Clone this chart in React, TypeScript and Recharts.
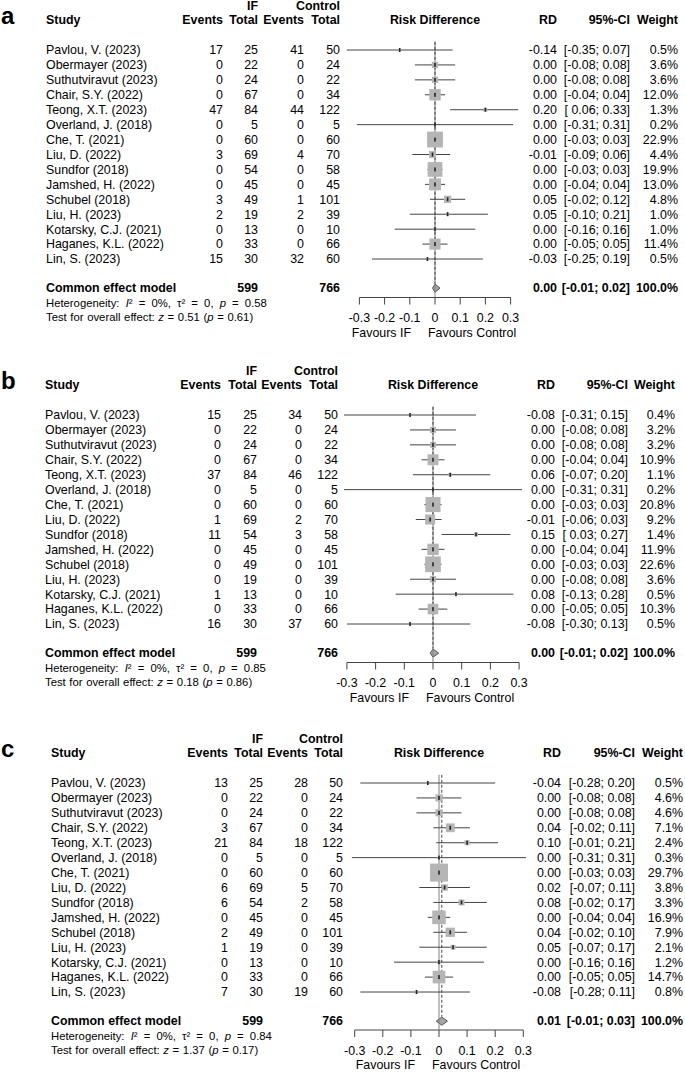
import React from 'react';
import {
  ScatterChart,
  Scatter,
  XAxis,
  YAxis,
  ErrorBar,
  ReferenceLine,
  ReferenceArea,
} from 'recharts';

const studies = [
  'Pavlou, V. (2023)',
  'Obermayer (2023)',
  'Suthutviravut (2023)',
  'Chair, S.Y. (2022)',
  'Teong, X.T. (2023)',
  'Overland, J. (2018)',
  'Che, T. (2021)',
  'Liu, D. (2022)',
  'Sundfor (2018)',
  'Jamshed, H. (2022)',
  'Schubel (2018)',
  'Liu, H. (2023)',
  'Kotarsky, C.J. (2021)',
  'Haganes, K.L. (2022)',
  'Lin, S. (2023)',
];
const totalIF = [25, 22, 24, 67, 84, 5, 60, 69, 54, 45, 49, 19, 13, 33, 30];
const totalControl = [50, 24, 22, 34, 122, 5, 60, 70, 58, 45, 101, 39, 10, 66, 60];
const axisTicks = [-0.3, -0.2, -0.1, 0, 0.1, 0.2, 0.3];

// panel a
const eventsIF_A = [17, 0, 0, 0, 47, 0, 0, 3, 0, 0, 3, 2, 0, 0, 15];
const eventsControl_A = [41, 0, 0, 0, 44, 0, 0, 4, 0, 0, 1, 2, 0, 0, 32];
const rd_A = [-0.14, 0, 0, 0, 0.2, 0, 0, -0.01, 0, 0, 0.05, 0.05, 0, 0, -0.03];
const low_A = [-0.35, -0.08, -0.08, -0.04, 0.06, -0.31, -0.03, -0.09, -0.03, -0.04, -0.02, -0.1, -0.16, -0.05, -0.25];
const high_A = [0.07, 0.08, 0.08, 0.04, 0.33, 0.31, 0.03, 0.06, 0.03, 0.04, 0.12, 0.21, 0.16, 0.05, 0.19];
const weight_A = [0.5, 3.6, 3.6, 12.0, 1.3, 0.2, 22.9, 4.4, 19.9, 13.0, 4.8, 1.0, 1.0, 11.4, 0.5];
const pooled_A = [0.0, -0.01, 0.02]; // RD, lower, upper
const stats_A = { i2: 0, tau2: 0, pHet: 0.58, z: 0.51, p: 0.61 };

// panel b
const eventsIF_B = [15, 0, 0, 0, 37, 0, 0, 1, 11, 0, 0, 0, 1, 0, 16];
const eventsControl_B = [34, 0, 0, 0, 46, 0, 0, 2, 3, 0, 0, 0, 0, 0, 37];
const rd_B = [-0.08, 0, 0, 0, 0.06, 0, 0, -0.01, 0.15, 0, 0, 0, 0.08, 0, -0.08];
const low_B = [-0.31, -0.08, -0.08, -0.04, -0.07, -0.31, -0.03, -0.06, 0.03, -0.04, -0.03, -0.08, -0.13, -0.05, -0.3];
const high_B = [0.15, 0.08, 0.08, 0.04, 0.2, 0.31, 0.03, 0.03, 0.27, 0.04, 0.03, 0.08, 0.28, 0.05, 0.13];
const weight_B = [0.4, 3.2, 3.2, 10.9, 1.1, 0.2, 20.8, 9.2, 1.4, 11.9, 22.6, 3.6, 0.5, 10.3, 0.5];
const pooled_B = [0.0, -0.01, 0.02];
const stats_B = { i2: 0, tau2: 0, pHet: 0.85, z: 0.18, p: 0.86 };

// panel c
const eventsIF_C = [13, 0, 0, 3, 21, 0, 0, 6, 6, 0, 2, 1, 0, 0, 7];
const eventsControl_C = [28, 0, 0, 0, 18, 0, 0, 5, 2, 0, 0, 0, 0, 0, 19];
const rd_C = [-0.04, 0, 0, 0.04, 0.1, 0, 0, 0.02, 0.08, 0, 0.04, 0.05, 0, 0, -0.08];
const low_C = [-0.28, -0.08, -0.08, -0.02, -0.01, -0.31, -0.03, -0.07, -0.02, -0.04, -0.02, -0.07, -0.16, -0.05, -0.28];
const high_C = [0.2, 0.08, 0.08, 0.11, 0.21, 0.31, 0.03, 0.11, 0.17, 0.04, 0.1, 0.17, 0.16, 0.05, 0.11];
const weight_C = [0.5, 4.6, 4.6, 7.1, 2.4, 0.3, 29.7, 3.8, 3.3, 16.9, 7.9, 2.1, 1.2, 14.7, 0.8];
const pooled_C = [0.01, -0.01, 0.03];
const stats_C = { i2: 0, tau2: 0, pHet: 0.84, z: 1.37, p: 0.17 };

const FONT = '"Liberation Sans", Arial, Helvetica, sans-serif';
const ROW = 14.93;
const SPAN = 0.4;
const FS = 12.4;

const panels = [
  {
    letter: 'a', eventsIF: eventsIF_A, eventsControl: eventsControl_A, rd: rd_A, low: low_A, high: high_A,
    weight: weight_A, pooled: pooled_A, stats: stats_A,
    layout: { y0: 50, axisY: 297.5, zero: 435, scale: 252, study: 46, evIF: 223, totIF: 258, evC: 304, totC: 340, rdX: 557, ciX: 630, wX: 678 },
  },
  {
    letter: 'b', eventsIF: eventsIF_B, eventsControl: eventsControl_B, rd: rd_B, low: low_B, high: high_B,
    weight: weight_B, pooled: pooled_B, stats: stats_B,
    layout: { y0: 414.5, axisY: 662, zero: 433, scale: 287, study: 45, evIF: 221, totIF: 257, evC: 302, totC: 338, rdX: 555, ciX: 628, wX: 675 },
  },
  {
    letter: 'c', eventsIF: eventsIF_C, eventsControl: eventsControl_C, rd: rd_C, low: low_C, high: high_C,
    weight: weight_C, pooled: pooled_C, stats: stats_C,
    layout: { y0: 783, axisY: 1030, zero: 439, scale: 281, study: 51, evIF: 228, totIF: 263, evC: 308, totC: 343, rdX: 561, ciX: 635, wX: 683 },
  },
];

const fmt = (v: number) => v.toFixed(2);
const ci = (lo: number, hi: number) => `[${lo >= 0 ? ' ' : ''}${fmt(lo)}; ${fmt(hi)}]`;
const sum = (a: number[]) => a.reduce((s, v) => s + v, 0);

function Txt({ x, y, anchor = 'start', bold = false, size = FS, spacing = 0, children }: any) {
  return (
    <text
      x={x}
      y={y}
      dy="0.35em"
      textAnchor={anchor}
      fontWeight={bold ? 'bold' : 'normal'}
      fontSize={size}
      fontFamily={FONT}
      fill="#000"
      xmlSpace="preserve"
      style={spacing ? { wordSpacing: spacing } : undefined}
    >
      {children}
    </text>
  );
}

function Panel({ d }: { d: (typeof panels)[number] }) {
  const L = d.layout;
  const top = L.y0 - 50;
  const height = L.axisY - top + 48;
  const toRow = (py: number) => (py - L.y0) / ROW;
  const domainTop = toRow(top + 2);
  const axisRow = toRow(L.axisY);
  const pooledRow = 15.95;
  const xl = L.zero - SPAN * L.scale;
  const xr = L.zero + SPAN * L.scale;

  const data = studies.map((_, i) => ({
    x: d.rd[i],
    y: i,
    err: [d.rd[i] - d.low[i], d.high[i] - d.rd[i]],
    weight: d.weight[i],
  }));

  const rowKinds = [
    { pos: -3, kind: 'group' },
    { pos: -2, kind: 'header' },
    ...studies.map((_, i) => ({ pos: i, kind: 'study' })),
    { pos: pooledRow, kind: 'pooled' },
    { pos: pooledRow + 1, kind: 'het' },
    { pos: pooledRow + 1.95, kind: 'test' },
    { pos: toRow(L.axisY + 35), kind: 'favours' },
  ];

  const renderTick = (props: any) => {
    const y = props.y;
    const v = props.payload.value;
    const r = rowKinds.find((k) => Math.abs(k.pos - v) < 1e-6);
    if (!r) return <g />;
    if (r.kind === 'group') {
      return (
        <g>
          <Txt x={L.totIF} y={y} anchor="end" bold>IF</Txt>
          <Txt x={L.totC} y={y} anchor="end" bold>Control</Txt>
        </g>
      );
    }
    if (r.kind === 'header') {
      return (
        <g>
          <text x={1} y={y + 4} fontSize={24} fontWeight="bold" fontFamily={FONT} fill="#000">{d.letter}</text>
          <Txt x={L.study} y={y} bold>Study</Txt>
          <Txt x={L.evIF} y={y} anchor="end" bold>Events</Txt>
          <Txt x={L.totIF} y={y} anchor="end" bold>Total</Txt>
          <Txt x={L.evC} y={y} anchor="end" bold>Events</Txt>
          <Txt x={L.totC} y={y} anchor="end" bold>Total</Txt>
          <Txt x={L.zero} y={y} anchor="middle" bold>Risk Difference</Txt>
          <Txt x={L.rdX} y={y} anchor="end" bold>RD</Txt>
          <Txt x={L.ciX} y={y} anchor="end" bold>95%-CI</Txt>
          <Txt x={L.wX} y={y} anchor="end" bold>Weight</Txt>
        </g>
      );
    }
    if (r.kind === 'study') {
      const i = r.pos;
      return (
        <g>
          <Txt x={L.study} y={y}>{studies[i]}</Txt>
          <Txt x={L.evIF} y={y} anchor="end">{d.eventsIF[i]}</Txt>
          <Txt x={L.totIF} y={y} anchor="end">{totalIF[i]}</Txt>
          <Txt x={L.evC} y={y} anchor="end">{d.eventsControl[i]}</Txt>
          <Txt x={L.totC} y={y} anchor="end">{totalControl[i]}</Txt>
          <Txt x={L.rdX} y={y} anchor="end">{fmt(d.rd[i])}</Txt>
          <Txt x={L.ciX} y={y} anchor="end">{ci(d.low[i], d.high[i])}</Txt>
          <Txt x={L.wX} y={y} anchor="end">{`${d.weight[i].toFixed(1)}%`}</Txt>
        </g>
      );
    }
    if (r.kind === 'pooled') {
      return (
        <g>
          <Txt x={L.study} y={y} bold>Common effect model</Txt>
          <Txt x={L.totIF} y={y} anchor="end" bold>{sum(totalIF)}</Txt>
          <Txt x={L.totC} y={y} anchor="end" bold>{sum(totalControl)}</Txt>
          <Txt x={L.rdX} y={y} anchor="end" bold>{fmt(d.pooled[0])}</Txt>
          <Txt x={L.ciX} y={y} anchor="end" bold>{ci(d.pooled[1], d.pooled[2])}</Txt>
          <Txt x={L.wX} y={y} anchor="end" bold>100.0%</Txt>
        </g>
      );
    }
    if (r.kind === 'het') {
      const s = d.stats;
      return (
        <Txt x={L.study} y={y} size={11.3} spacing={3}>
          {'Heterogeneity: '}
          <tspan fontStyle="italic">I</tspan>
          {`² = ${s.i2}%, τ² = ${s.tau2}, `}
          <tspan fontStyle="italic">p</tspan>
          {` = ${s.pHet.toFixed(2)}`}
        </Txt>
      );
    }
    if (r.kind === 'test') {
      const s = d.stats;
      return (
        <Txt x={L.study} y={y} size={11.3} spacing={0.5}>
          {'Test for overall effect: '}
          <tspan fontStyle="italic">z</tspan>
          {` = ${s.z.toFixed(2)} (`}
          <tspan fontStyle="italic">p</tspan>
          {` = ${s.p.toFixed(2)})`}
        </Txt>
      );
    }
    return (
      <g>
        <Txt x={L.zero - 24} y={y} anchor="end">Favours IF</Txt>
        <Txt x={L.zero - 7} y={y}>Favours Control</Txt>
      </g>
    );
  };

  const pooledLo = d.pooled[1];
  const pooledHi = d.pooled[2];
  const tipFrac = (d.pooled[0] - pooledLo) / (pooledHi - pooledLo);

  return (
    <div style={{ position: 'absolute', left: 0, top }}>
      <ScatterChart
        width={685}
        height={height}
        margin={{ top: 2, right: 685 - xr, bottom: 18, left: 0 }}
      >
        <XAxis
          type="number"
          dataKey="x"
          domain={[-SPAN, SPAN]}
          allowDataOverflow
          ticks={axisTicks}
          interval={0}
          axisLine={false}
          tickLine={{ stroke: '#444' }}
          tickSize={7}
          tickMargin={9}
          height={30}
          tick={{ fontSize: FS, fill: '#000', fontFamily: FONT }}
        />
        <YAxis
          type="number"
          dataKey="y"
          domain={[domainTop, axisRow]}
          allowDataOverflow
          reversed
          width={xl}
          ticks={rowKinds.map((k) => k.pos)}
          interval={0}
          axisLine={false}
          tickLine={false}
          tick={renderTick}
        />
        <ReferenceLine
          segment={[{ x: -0.3, y: axisRow }, { x: 0.3, y: axisRow }]}
          stroke="#444"
          ifOverflow="visible"
        />
        <ReferenceLine
          segment={[{ x: 0, y: -0.55 }, { x: 0, y: axisRow }]}
          stroke="#808080"
          ifOverflow="visible"
        />
        <ReferenceLine
          segment={[{ x: d.pooled[0], y: -0.55 }, { x: d.pooled[0], y: pooledRow - 0.3 }]}
          stroke="#404040"
          strokeDasharray="3 2"
          ifOverflow="visible"
        />
        <Scatter
          data={data}
          isAnimationActive={false}
          shape={(p: any) => {
            const s = 3.3 * Math.sqrt(p.payload.weight);
            return <rect x={p.cx - s / 2} y={p.cy - s / 2} width={s} height={s} fill="#b5b5b5" />;
          }}
        />
        <Scatter
          data={data}
          isAnimationActive={false}
          shape={(p: any) => <rect x={p.cx - 0.8} y={p.cy - 2} width={1.6} height={4} fill="#222" />}
        >
          <ErrorBar dataKey="err" direction="x" width={0} stroke="#444" strokeWidth={1} isAnimationActive={false} />
        </Scatter>
        <ReferenceArea
          x1={pooledLo}
          x2={pooledHi}
          y1={pooledRow - 0.27}
          y2={pooledRow + 0.27}
          ifOverflow="visible"
          shape={(p: any) => {
            const tx = p.x + p.width * tipFrac;
            const my = p.y + p.height / 2;
            return (
              <polygon
                points={`${p.x},${my} ${tx},${p.y} ${p.x + p.width},${my} ${tx},${p.y + p.height}`}
                fill="#a6a6a6"
                stroke="#555"
                strokeWidth={1}
              />
            );
          }}
        />
      </ScatterChart>
    </div>
  );
}

export default function App() {
  return (
    <div style={{ position: 'absolute', left: 0, top: 0, width: 685, height: 1072, background: '#fff' }}>
      {panels.map((d) => (
        <Panel key={d.letter} d={d} />
      ))}
    </div>
  );
}
